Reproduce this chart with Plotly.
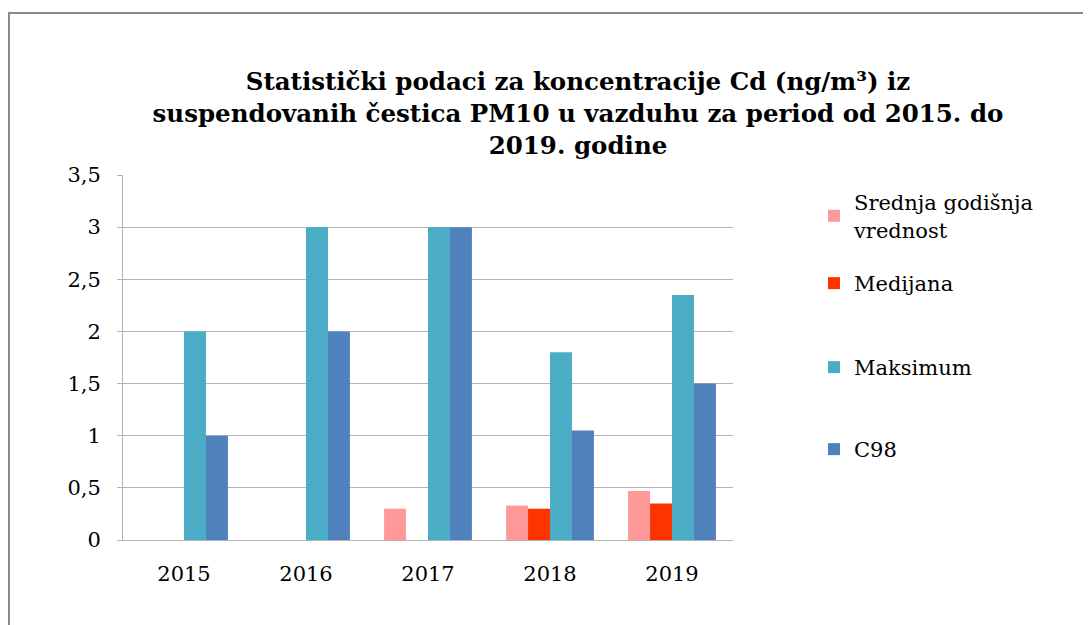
import plotly.graph_objects as go

years = ["2015", "2016", "2017", "2018", "2019"]
series_names = ["Srednja godišnja<br>vrednost", "Medijana", "Maksimum", "C98"]
srednja = [None, None, 0.30, 0.33, 0.47]
medijana = [None, None, None, 0.30, 0.35]
maksimum = [2.0, 3.0, 3.0, 1.8, 2.35]
c98 = [1.0, 2.0, 3.0, 1.05, 1.5]
colors = ["#FF9999", "#FF3300", "#4BACC6", "#4F81BD"]
y_ticks = [0, 0.5, 1, 1.5, 2, 2.5, 3, 3.5]

W, H = 1091, 625
OFF = 8  # page body margin
# plot area in screen pixels: x 123..733, y 175..540
ML, MT = 123 - OFF, 175 - OFF
MR, MB = W - (733 - OFF), H - (540 - OFF)
pw, ph = W - ML - MR, H - MT - MB

def px_x(p):
    return (p - OFF - ML) / pw

def px_y(p):
    return (H - MB - (p - OFF)) / ph

serif = "DejaVu Serif"
legend_names = ["legend", "legend2", "legend3", "legend4"]
legend_y = [198, 279, 363, 445]

fig = go.Figure()
for i, (name, vals) in enumerate(zip(series_names, [srednja, medijana, maksimum, c98])):
    fig.add_trace(go.Bar(
        x=years, y=vals, name=name, marker_color=colors[i],
        marker_line_width=0, legend=legend_names[i],
    ))

legend_layout = {}
for i, ln in enumerate(legend_names):
    legend_layout[ln] = dict(
        x=(814 - OFF) / W, xref="container", xanchor="left",
        y=1 - (legend_y[i] - OFF - 16) / H, yref="container", yanchor="top",
        font=dict(size=21, family=serif, color="black"),
        itemclick=False, bgcolor="rgba(0,0,0,0)", borderwidth=0,
    )

fig.update_layout(
    width=W, height=H,
    margin=dict(l=ML, r=MR, t=MT, b=MB),
    paper_bgcolor="white", plot_bgcolor="white",
    separators=",.",
    barmode="group", bargap=0.28, bargroupgap=0,
    font=dict(family=serif, color="black"),
    title=dict(
        text="<b>Statistički podaci za koncentracije Cd (ng/m³) iz<br>suspendovanih čestica PM10 u vazduhu za period od 2015. do<br>2019. godine</b>",
        x=(578 - OFF) / W, xanchor="center", y=1 - (90 - OFF) / H, yanchor="top",
        font=dict(size=24.5, family=serif, color="black"),
    ),
    showlegend=True,
    xaxis=dict(
        showline=True, linecolor="#b3b3b3", linewidth=1,
        tickfont=dict(size=21, family=serif, color="black"),
        ticks="", ticklabelstandoff=15,
    ),
    yaxis=dict(
        range=[0, 3.5], tickvals=y_ticks, showgrid=True, gridcolor="#b3b3b3", gridwidth=1,
        showline=True, linecolor="#b3b3b3", linewidth=1,
        ticks="outside", ticklen=5, tickcolor="#b3b3b3",
        tickfont=dict(size=21, family=serif, color="black"),
        ticklabelstandoff=12, zeroline=False,
    ),
    shapes=[
        dict(type="rect", xref="paper", yref="paper",
             x0=px_x(9), x1=px_x(W + 30), y0=px_y(H + 30), y1=px_y(13),
             line=dict(color="#8a8a8a", width=2), fillcolor="rgba(0,0,0,0)", layer="below"),
    ],
    **legend_layout,
)

fig.write_html("out.html")
